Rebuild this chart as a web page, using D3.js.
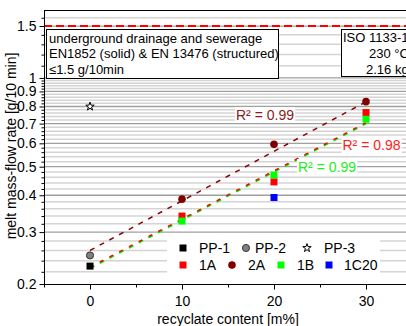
<!DOCTYPE html>
<html>
<head>
<meta charset="utf-8">
<script src="https://cdn.jsdelivr.net/npm/d3@7"></script>
<style>
  body { margin: 0; background: #fff; }
  svg { font-family: Arial, "Liberation Sans", sans-serif; display: block; }
</style>
</head>
<body>
<div id="chart"></div>
<script>
// recyclate content [m%] per series
var recX = [10, 20, 30];

// melt mass-flow rate values [g/10 min]
var pp1 = [{x: 0, y: 0.23}];
var pp2 = [{x: 0, y: 0.25}];
var pp3 = [{x: 0, y: 0.80}];
var mfr1A = [0.340, 0.444, 0.763];
var mfr2A = [0.388, 0.596, 0.831];
var mfr1B = [0.327, 0.468, 0.724];
var c20 = [{x: 20, y: 0.393}];

// trend lines (start, end)
var trend2A = [{x: 0, y: 0.260}, {x: 30, y: 0.830}];
var trend1B = [{x: 0, y: 0.226}, {x: 30, y: 0.700}];
var trend1A = [{x: 0, y: 0.228}, {x: 30, y: 0.705}];

var r2Labels = ["R\u00b2 = 0.99", "R\u00b2 = 0.98", "R\u00b2 = 0.99"];
var limitMfr = 1.5;

var xTicks = [0, 10, 20, 30];
var xMinor = [-5, 5, 15, 25];
var yTicks = [0.2, 0.3, 0.4, 0.5, 0.6, 0.7, 0.8, 0.9, 1, 1.5];
var yMinor = [0.22, 0.24, 0.26, 0.28, 0.32, 0.34, 0.36, 0.38, 0.42, 0.44, 0.46, 0.48,
  0.52, 0.54, 0.56, 0.58, 0.62, 0.64, 0.66, 0.68, 0.72, 0.74, 0.76, 0.78,
  0.82, 0.84, 0.86, 0.88, 0.92, 0.94, 0.96, 0.98, 1.1, 1.2, 1.3, 1.4, 1.6];

var toPts = function(vals) { return vals.map(function(v, i) { return {x: recX[i], y: v}; }); };

var width = 406, height = 326;
var margin = {top: 10, right: -6, bottom: 42, left: 44};
var x = d3.scaleLinear().domain([-5, 35]).range([margin.left, width - margin.right]);
var y = d3.scaleLog().domain([0.2, 1.7]).range([height - margin.bottom, margin.top]);

var svg = d3.select("#chart").append("svg")
    .attr("width", width)
    .attr("height", height);

svg.append("clipPath").attr("id", "plotclip")
  .append("rect")
    .attr("x", margin.left).attr("y", margin.top)
    .attr("width", x(35) - margin.left).attr("height", y(0.2) - margin.top);

var plot = svg.append("g").attr("clip-path", "url(#plotclip)");

// grid
plot.append("g").selectAll("line")
    .data(yMinor)
  .enter().append("line")
    .attr("x1", margin.left).attr("x2", x(35))
    .attr("y1", function(d) { return y(d); }).attr("y2", function(d) { return y(d); })
    .attr("stroke", "#d4d4d4").attr("stroke-width", 1.5);

plot.append("g").selectAll("line")
    .data(yTicks.slice(1))
  .enter().append("line")
    .attr("x1", margin.left).attr("x2", x(35))
    .attr("y1", function(d) { return y(d); }).attr("y2", function(d) { return y(d); })
    .attr("stroke", "#a0a0a0").attr("stroke-width", 1.3);

// limit line
plot.append("line")
    .attr("x1", margin.left).attr("x2", x(35))
    .attr("y1", y(limitMfr)).attr("y2", y(limitMfr))
    .attr("stroke", "#ff0000").attr("stroke-width", 2)
    .attr("stroke-dasharray", "8,4");

// text boxes
var box1 = svg.append("g");
box1.append("rect")
    .attr("x", 46.5).attr("y", 29.5).attr("width", 232).attr("height", 49)
    .attr("fill", "#fff").attr("stroke", "#000").attr("stroke-width", 1);
box1.selectAll("text")
    .data(["underground drainage and sewerage",
           "EN1852 (solid) & EN 13476 (structured)",
           "\u22641.5 g/10min"])
  .enter().append("text")
    .attr("x", 49)
    .attr("y", function(d, i) { return 42.5 + i * 15.5; })
    .attr("font-size", 13)
    .text(function(d) { return d; });

var box2 = svg.append("g");
box2.append("rect")
    .attr("x", 341.5).attr("y", 29.5).attr("width", 100).attr("height", 47)
    .attr("fill", "#fff").attr("stroke", "#000").attr("stroke-width", 1);
box2.append("text").attr("x", 343).attr("y", 42).attr("font-size", 13).text("ISO 1133-1");
box2.append("text").attr("x", 369).attr("y", 58).attr("font-size", 13).text("230 \u00b0C");
box2.append("text").attr("x", 366).attr("y", 73.5).attr("font-size", 13).text("2.16 kg");

// legend background
svg.append("rect")
    .attr("x", 167).attr("y", 235).attr("width", 213).attr("height", 47)
    .attr("fill", "#fff");

// trend lines
var line = d3.line().x(function(d) { return x(d.x); }).y(function(d) { return y(d.y); });
plot.append("path").datum(trend2A).attr("d", line)
    .attr("fill", "none").attr("stroke", "#8b0000").attr("stroke-width", 1.5)
    .attr("stroke-dasharray", "5,6");
plot.append("path").datum(trend1B).attr("d", line)
    .attr("fill", "none").attr("stroke", "#00ee00").attr("stroke-width", 1.8)
    .attr("stroke-dasharray", "5,6");
plot.append("path").datum(trend1A).attr("d", line)
    .attr("fill", "none").attr("stroke", "#ff0000").attr("stroke-width", 1.5)
    .attr("stroke-dasharray", "4,7");

// R2 labels
var r2Pos = [
  {x: 265, y: 115, color: "#8b1a1a"},
  {x: 371.5, y: 145, color: "#ff2020"},
  {x: 327, y: 167, color: "#22ee22"}
];
r2Labels.forEach(function(t, i) {
  var g = svg.append("g");
  var txt = g.append("text")
      .attr("x", r2Pos[i].x).attr("y", r2Pos[i].y + 5)
      .attr("text-anchor", "middle").attr("font-size", 14)
      .attr("fill", r2Pos[i].color).text(t);
  var bb = txt.node().getBBox();
  g.insert("rect", "text")
      .attr("x", bb.x - 1).attr("y", bb.y).attr("width", bb.width + 2).attr("height", bb.height)
      .attr("fill", "#fff");
});

// markers
var sym = function(type, size) { return d3.symbol().type(type).size(size)(); };
function drawPts(data, type, size, fill, stroke) {
  svg.append("g").selectAll("path")
      .data(data)
    .enter().append("path")
      .attr("transform", function(d) { return "translate(" + x(d.x) + "," + y(d.y) + ")"; })
      .attr("d", sym(type, size))
      .attr("fill", fill)
      .attr("stroke", stroke || "none");
}
drawPts(pp1, d3.symbolSquare, 49, "#000");
drawPts(pp2, d3.symbolCircle, 40, "#808080", "#333");
drawPts(pp3, d3.symbolStar, 22, "#fff", "#000");
drawPts(toPts(mfr1A), d3.symbolSquare, 49, "#ff0000");
drawPts(toPts(mfr2A), d3.symbolCircle, 45, "#800000");
drawPts(toPts(mfr1B), d3.symbolSquare, 49, "#00ff00");
drawPts(c20, d3.symbolSquare, 49, "#0000ff");

// legend
var legendItems = [
  {name: "PP-1", type: d3.symbolSquare, size: 49, fill: "#000", mx: 183, tx: 199, row: 0},
  {name: "PP-2", type: d3.symbolCircle, size: 40, fill: "#808080", stroke: "#333", mx: 246, tx: 255, row: 0},
  {name: "PP-3", type: d3.symbolStar, size: 22, fill: "#fff", stroke: "#000", mx: 307, tx: 324, row: 0},
  {name: "1A", type: d3.symbolSquare, size: 49, fill: "#ff0000", mx: 183, tx: 199, row: 1},
  {name: "2A", type: d3.symbolCircle, size: 45, fill: "#800000", mx: 232, tx: 248, row: 1},
  {name: "1B", type: d3.symbolSquare, size: 49, fill: "#00ff00", mx: 281, tx: 297, row: 1},
  {name: "1C20", type: d3.symbolSquare, size: 49, fill: "#0000ff", mx: 329, tx: 344, row: 1}
];
var legend = svg.selectAll(".legend")
    .data(legendItems)
  .enter().append("g")
    .attr("class", "legend")
    .attr("transform", function(d) { return "translate(0," + (248 + d.row * 17) + ")"; });
legend.append("path")
    .attr("transform", function(d) { return "translate(" + d.mx + ",0)"; })
    .attr("d", function(d) { return sym(d.type, d.size); })
    .attr("fill", function(d) { return d.fill; })
    .attr("stroke", function(d) { return d.stroke || "none"; });
legend.append("text")
    .attr("x", function(d) { return d.tx; })
    .attr("dy", "0.35em")
    .attr("font-size", 14)
    .text(function(d) { return d.name; });

// axes
var axisG = svg.append("g").attr("stroke", "#000").attr("stroke-width", 1);
axisG.append("line").attr("x1", margin.left + 0.5).attr("x2", margin.left + 0.5)
    .attr("y1", margin.top).attr("y2", y(0.2));
axisG.append("line").attr("x1", margin.left).attr("x2", width)
    .attr("y1", y(0.2) + 0.5).attr("y2", y(0.2) + 0.5);
axisG.append("line").attr("x1", margin.left).attr("x2", width)
    .attr("y1", margin.top + 0.5).attr("y2", margin.top + 0.5);

var yAxis = d3.axisLeft(y).tickValues(yTicks).tickSize(5).tickPadding(3)
    .tickFormat(function(d) { return d3.format("~g")(d); });
svg.append("g")
    .attr("transform", "translate(" + (margin.left + 0.5) + ",0)")
    .call(yAxis)
    .call(function(g) { g.select(".domain").remove(); })
    .call(function(g) { g.selectAll("text").attr("font-size", 14).attr("fill", "#000").attr("font-family", null); });
svg.append("g")
    .attr("transform", "translate(" + (margin.left + 0.5) + ",0)")
    .call(d3.axisLeft(y).tickValues(yMinor).tickSize(3).tickFormat(""))
    .call(function(g) { g.select(".domain").remove(); });

var xAxis = d3.axisBottom(x).tickValues(xTicks).tickSize(5).tickPadding(7);
svg.append("g")
    .attr("transform", "translate(0," + (y(0.2) + 0.5) + ")")
    .call(xAxis)
    .call(function(g) { g.select(".domain").remove(); })
    .call(function(g) { g.selectAll("text").attr("font-size", 14).attr("fill", "#000").attr("font-family", null); });
svg.append("g")
    .attr("transform", "translate(0," + (y(0.2) + 0.5) + ")")
    .call(d3.axisBottom(x).tickValues(xMinor).tickSize(3).tickFormat(""))
    .call(function(g) { g.select(".domain").remove(); });

// axis titles
svg.append("text")
    .attr("x", 228).attr("y", 324)
    .attr("text-anchor", "middle").attr("font-size", 14)
    .text("recyclate content [m%]");
svg.append("text")
    .attr("transform", "translate(16,146) rotate(-90)")
    .attr("text-anchor", "middle").attr("font-size", 14)
    .text("melt mass-flow rate [g/10 min]");
</script>
</body>
</html>
